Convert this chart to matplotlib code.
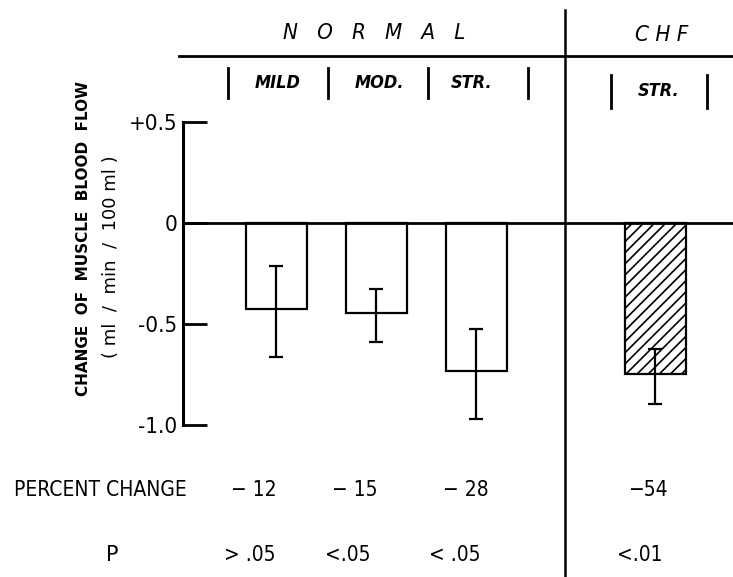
import matplotlib
matplotlib.use("Agg")
import matplotlib.pyplot as plt
from matplotlib.lines import Line2D
from matplotlib.transforms import blended_transform_factory

# data
groups = ["MILD", "MOD.", "STR.", "STR."]
change = [-0.425, -0.448, -0.734, -0.747]
err_low = [0.237, 0.139, 0.238, 0.147]
err_high = [0.214, 0.121, 0.211, 0.123]
percent = ["\u2212 12", "\u2212 15", "\u2212 28", "\u221254"]
p_values = ["> .05", "<.05", "< .05", "<.01"]
yticks = [0.5, 0, -0.5, -1.0]
ytick_labels = ["+0.5", "0", "-0.5", "-1.0"]

xpos = [0, 1, 2, 3.79]

NARROW = dict(family="DejaVu Sans", stretch="condensed")
W, H = 733, 577


def fx(px):
    return px / W


def fy(py):
    return 1 - py / H


plt.rcParams["hatch.linewidth"] = 1.2
fig = plt.figure(figsize=(7.33, 5.77), dpi=100)
ax = fig.add_axes([fx(183), fy(425), fx(733) - fx(183), fy(122) - fy(425)])

bars = ax.bar(xpos, change, width=0.61, facecolor="white", edgecolor="black",
              linewidth=1.6, zorder=2)
bars[3].set_hatch("///")
ax.errorbar(xpos, change, yerr=[err_low, err_high], fmt="none", ecolor="black",
            elinewidth=1.6, capsize=5, capthick=1.6, zorder=3)
ax.axhline(0, color="black", lw=2, zorder=4)

ax.set_xlim(-0.93, 4.57)
ax.set_ylim(-1.0, 0.5)
for s in ["top", "right", "bottom"]:
    ax.spines[s].set_visible(False)
ax.spines["left"].set_linewidth(2.2)
ax.set_xticks([])
ax.set_yticks(yticks)
ax.set_yticklabels(ytick_labels, fontsize=16, **NARROW)
ax.tick_params(axis="y", direction="in", length=17, width=2, pad=4)

trans = blended_transform_factory(ax.transData, fig.transFigure)

# divider between NORMAL and CHF
ax.plot([2.89, 2.89], [fy(10), 0], color="black", lw=1.8, transform=trans,
        clip_on=False)
fig.add_artist(Line2D([fx(179), 1], [fy(56), fy(56)], color="black", lw=2))

ax.text(0.98, fy(33), "N   O   R   M   A   L", transform=trans, ha="center",
        va="center", style="italic", fontsize=16, **NARROW)
ax.text(3.86, fy(35), "C H F", transform=trans, ha="center", va="center",
        style="italic", fontsize=16, **NARROW)

# group labels with separators
sub_x = [0.02, 1.03, 1.96, 3.83]
for i, g in enumerate(groups):
    yy = fy(83) if i < 3 else fy(91)
    ax.text(sub_x[i], yy, g, transform=trans, ha="center", va="center",
            style="italic", weight="bold", fontsize=13, **NARROW)
for xs in [-0.48, 0.52, 1.52, 2.52]:
    ax.plot([xs, xs], [fy(68), fy(98)], color="black", lw=2, transform=trans,
            clip_on=False)
for xs in [3.35, 4.31]:
    ax.plot([xs, xs], [fy(75), fy(108)], color="black", lw=2, transform=trans,
            clip_on=False)

# y label
fig.text(fx(84), fy(238), "CHANGE  OF  MUSCLE  BLOOD  FLOW", rotation=90,
         ha="center", va="center", weight="bold", fontsize=11)
fig.text(fx(111), fy(257), "( ml  /  min  /  100 ml )", rotation=90,
         ha="center", va="center", fontsize=13)

# bottom rows
fig.text(fx(100), fy(490), "PERCENT CHANGE", ha="center", va="center",
         fontsize=15, **NARROW)
fig.text(fx(112), fy(555), "P", ha="center", va="center", fontsize=15)
pc_x = [254, 355, 466, 648]
pv_x = [250, 348, 455, 640]
for i in range(4):
    fig.text(fx(pc_x[i]), fy(490), percent[i], ha="center", va="center",
             fontsize=15, **NARROW)
    fig.text(fx(pv_x[i]), fy(555), p_values[i], ha="center", va="center",
             fontsize=15, **NARROW)

fig.savefig("out.png", dpi=100)
